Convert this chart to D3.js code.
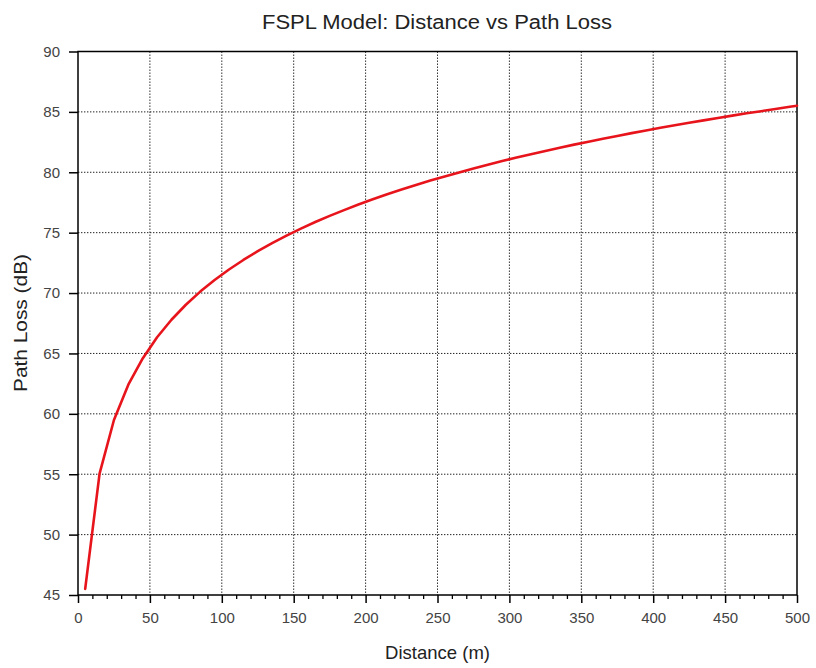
<!DOCTYPE html>
<html>
<head>
<meta charset="utf-8">
<script src="https://cdn.jsdelivr.net/npm/d3@7/dist/d3.min.js"></script>
<style>
  html, body { margin: 0; padding: 0; background: #fff; }
  svg { display: block; font-family: "Liberation Sans", Arial, sans-serif; }
</style>
</head>
<body>
<svg id="chart" width="816" height="668"></svg>
<script>
// Free-space path loss samples: distance (m) and path loss (dB)
const distance = [5, 15, 25, 35, 45, 55, 65, 75, 85, 95, 105, 115, 125, 135, 145, 155, 165, 175, 185, 195,
  205, 215, 225, 235, 245, 255, 265, 275, 285, 295, 305, 315, 325, 335, 345, 355, 365, 375, 385, 395,
  405, 415, 425, 435, 445, 455, 465, 475, 485, 495, 500];
const pathLoss = [45.51, 55.05, 59.49, 62.41, 64.59, 66.34, 67.79, 69.03, 70.12, 71.08, 71.95, 72.74, 73.47, 74.14, 74.76, 75.34, 75.88, 76.39, 76.87, 77.33,
  77.76, 78.18, 78.57, 78.95, 79.31, 79.66, 79.99, 80.32, 80.63, 80.93, 81.22, 81.50, 81.77, 82.03, 82.29, 82.53, 82.78, 83.01, 83.24, 83.46,
  83.68, 83.89, 84.10, 84.30, 84.50, 84.69, 84.88, 85.06, 85.24, 85.42, 85.51];

const xTicks = [0, 50, 100, 150, 200, 250, 300, 350, 400, 450, 500];
const xMinorTicks = d3.range(0, 501, 10);
const yTicks = [45, 50, 55, 60, 65, 70, 75, 80, 85, 90];

const titleText = "FSPL Model: Distance vs Path Loss";
const xLabel = "Distance (m)";
const yLabel = "Path Loss (dB)";

const svg = d3.select("#chart");
const plotLeft = 78, plotRight = 797, plotTop = 51.5, plotBottom = 595;

const x = d3.scaleLinear().domain([0, 500]).range([plotLeft, plotRight]);
const y = d3.scaleLinear().domain([45, 90]).range([plotBottom, plotTop]);

// dotted grid
const grid = svg.append("g").attr("stroke", "#222").attr("stroke-width", 1)
  .attr("stroke-dasharray", "1.4,1.6").attr("fill", "none");
xTicks.filter(t => t > 0 && t < 500).forEach(t => {
  grid.append("line").attr("x1", x(t)).attr("x2", x(t)).attr("y1", plotTop).attr("y2", plotBottom);
});
yTicks.filter(t => t > 45 && t < 90).forEach(t => {
  grid.append("line").attr("x1", plotLeft).attr("x2", plotRight).attr("y1", y(t)).attr("y2", y(t));
});

// frame
svg.append("rect").attr("x", plotLeft).attr("y", plotTop)
  .attr("width", plotRight - plotLeft).attr("height", plotBottom - plotTop)
  .attr("fill", "none").attr("stroke", "#000").attr("stroke-width", 1.5);

// x axis
const xAxis = d3.axisBottom(x).tickValues(xTicks).tickSize(8).tickPadding(9).tickFormat(d3.format("d"));
const gx = svg.append("g").attr("transform", `translate(0,${plotBottom})`).call(xAxis);
gx.select(".domain").remove();
gx.selectAll(".tick line").attr("stroke", "#000").attr("stroke-width", 1.5);
gx.selectAll(".tick text").attr("font-size", 15).attr("fill", "#444")
  .attr("font-family", "'Liberation Sans', Arial, sans-serif");
const xMinor = d3.axisBottom(x).tickValues(xMinorTicks.filter(t => t % 50 !== 0)).tickSize(4).tickFormat("");
const gxm = svg.append("g").attr("transform", `translate(0,${plotBottom})`).call(xMinor);
gxm.select(".domain").remove();
gxm.selectAll(".tick line").attr("stroke", "#000").attr("stroke-width", 1.3);

// y axis
const yAxis = d3.axisLeft(y).tickValues(yTicks).tickSize(9).tickPadding(9).tickFormat(d3.format("d"));
const gy = svg.append("g").attr("transform", `translate(${plotLeft},0)`).call(yAxis);
gy.select(".domain").remove();
gy.selectAll(".tick line").attr("stroke", "#000").attr("stroke-width", 1.5);
gy.selectAll(".tick text").attr("font-size", 15).attr("fill", "#444")
  .attr("font-family", "'Liberation Sans', Arial, sans-serif");

// path loss curve
const line = d3.line().x((d, i) => x(distance[i])).y(d => y(d));
svg.append("path").datum(pathLoss).attr("d", line)
  .attr("fill", "none").attr("stroke", "#e8141c").attr("stroke-width", 2.6)
  .attr("stroke-linejoin", "round").attr("stroke-linecap", "round");

// titles
svg.append("text").attr("x", 437).attr("y", 28.5).attr("text-anchor", "middle")
  .attr("font-size", 19.5).attr("fill", "#222")
  .attr("textLength", 350).attr("lengthAdjust", "spacingAndGlyphs").text(titleText);
svg.append("text").attr("x", 437.5).attr("y", 659).attr("text-anchor", "middle")
  .attr("font-size", 18.5).attr("fill", "#222")
  .attr("textLength", 105).attr("lengthAdjust", "spacingAndGlyphs").text(xLabel);
svg.append("text").attr("transform", "translate(27,323) rotate(-90)").attr("text-anchor", "middle")
  .attr("font-size", 18.5).attr("fill", "#222")
  .attr("textLength", 138).attr("lengthAdjust", "spacingAndGlyphs").text(yLabel);
</script>
</body>
</html>
